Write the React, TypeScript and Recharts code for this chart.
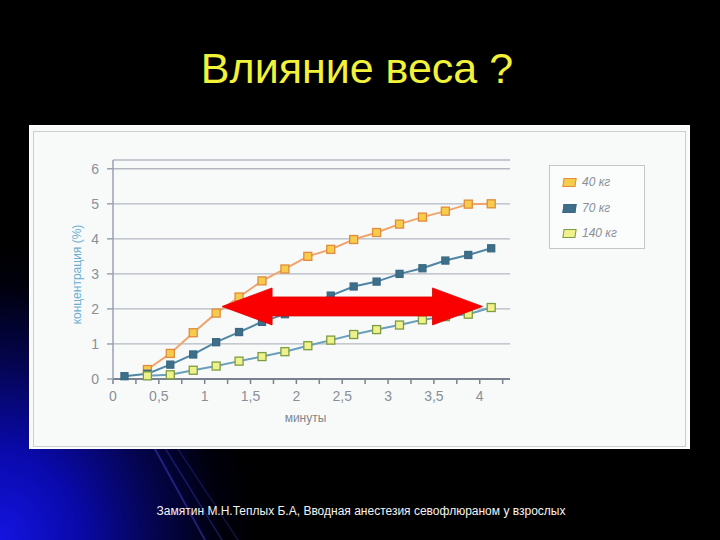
import React from 'react';
import { LineChart, Line, XAxis, YAxis, CartesianGrid, ReferenceLine, Legend } from 'recharts';

// ---- data ----
const times = [0.125, 0.375, 0.625, 0.875, 1.125, 1.375, 1.625, 1.875, 2.125, 2.375, 2.625, 2.875, 3.125, 3.375, 3.625, 3.875, 4.125];
const kg40 = [null, 0.27, 0.73, 1.32, 1.88, 2.34, 2.8, 3.14, 3.5, 3.7, 3.98, 4.18, 4.42, 4.62, 4.79, 4.99, 5.0];
const kg70 = [0.08, 0.15, 0.41, 0.7, 1.05, 1.34, 1.63, 1.85, 2.1, 2.38, 2.64, 2.78, 3.0, 3.16, 3.38, 3.54, 3.73];
const kg140 = [null, 0.09, 0.12, 0.25, 0.37, 0.51, 0.64, 0.78, 0.95, 1.11, 1.27, 1.41, 1.54, 1.69, 1.78, 1.85, 2.04];
const seriesNames = ['40 кг', '70 кг', '140 кг'];
const yTicks = [0, 1, 2, 3, 4, 5, 6];
const xTicks = [0, 0.25, 0.5, 0.75, 1, 1.25, 1.5, 1.75, 2, 2.25, 2.5, 2.75, 3, 3.25, 3.5, 3.75, 4, 4.25];
const arrowFrom = 1.19;
const arrowTo = 4.03;
const arrowLevel = 2.07;

const titleText = 'Влияние веса ?';
const yLabelText = 'концентрация (%)';
const xLabelText = 'минуты';
const captionText = 'Замятин М.Н.Теплых Б.А, Вводная анестезия севофлюраном у взрослых';

const data = times.map((t, i) => ({ t, a: kg40[i], b: kg70[i], c: kg140[i] }));

// ---- styles ----
const styles = [
  { line: '#f0a46c', fill: '#f7cb4c', stroke: '#e08c3c' },
  { line: '#4f86a3', fill: '#3e6f8a', stroke: '#3a6882' },
  { line: '#6a9fbc', fill: '#eef18c', stroke: '#7e9c42' },
];
const FONT = '"Liberation Sans", Arial, sans-serif';
const TICK_COLOR = '#8a9098';
const X_DOMAIN: [number, number] = [0, 4.33];
const Y_DOMAIN: [number, number] = [0, 6.25];
const CHART_W = 661;
const CHART_H = 324;

const squareDot = (st: any, size: number) => (p: any) => {
  const key = `d-${p.index}`;
  if (p.cx == null || p.cy == null || p.value == null) return <g key={key} />;
  return (
    <rect key={key} x={p.cx - size / 2} y={p.cy - size / 2} width={size} height={size}
      fill={st.fill} stroke={st.stroke} strokeWidth={1.3} />
  );
};

const XTick = (p: any) => {
  const v = p.payload.value;
  const show = Math.abs(v * 2 - Math.round(v * 2)) < 1e-6;
  if (!show) return <g />;
  return (
    <text x={p.x} y={p.y} dy={15} textAnchor="middle" fill={TICK_COLOR} fontSize={14} fontFamily={FONT}>
      {String(v).replace('.', ',')}
    </text>
  );
};

const YTick = (p: any) => (
  <text x={p.x} y={p.y} dy={5} textAnchor="end" fill={TICK_COLOR} fontSize={14} fontFamily={FONT}>
    {p.payload.value}
  </text>
);

const YLabel = (p: any) => {
  const vb = p.viewBox || { x: 44, y: 35, width: 40, height: 219 };
  const x = vb.x + 4;
  const y = vb.y + vb.height / 2 + 5;
  return (
    <text x={x} y={y} transform={`rotate(-90, ${x}, ${y})`} textAnchor="middle" dominantBaseline="central"
      fill="#6aaed0" fontSize={12} fontFamily={FONT}>
      {yLabelText}
    </text>
  );
};

const XLabel = (p: any) => {
  const vb = p.viewBox || { x: 84, y: 254, width: 397, height: 30 };
  return (
    <text x={vb.x + vb.width / 2 - 6} y={vb.y + 43} textAnchor="middle" fill="#7e868e" fontSize={12} fontFamily={FONT}>
      {xLabelText}
    </text>
  );
};

const ArrowShape = (p: any) => {
  const { x1, y1, x2 } = p;
  if (x1 == null || y1 == null || x2 == null) return <g />;
  const head = 50;
  const hh = 18.5;
  const sh = 9.5;
  const y = y1;
  const pts = [
    [x1, y],
    [x1 + head, y - hh],
    [x1 + head, y - sh],
    [x2 - head, y - sh],
    [x2 - head, y - hh],
    [x2, y],
    [x2 - head, y + hh],
    [x2 - head, y + sh],
    [x1 + head, y + sh],
    [x1 + head, y + hh],
  ].map((q) => q.join(',')).join(' ');
  return <polygon points={pts} fill="#fb0000" stroke="#e00000" strokeWidth={0.8} />;
};

const LegendBox = (props: any) => {
  const payload = [...(props.payload || [])]
    .filter((p: any) => seriesNames.indexOf(p.value) >= 0)
    .sort((p: any, q: any) => seriesNames.indexOf(p.value) - seriesNames.indexOf(q.value));
  const rowsTop = [10, 36, 61];
  return (
    <div style={{ position: 'relative', width: 96, height: 84, boxSizing: 'border-box', border: '1px solid #c2c7cc', background: '#fbfcfc' }}>
      {payload.map((item: any, i: number) => {
        const idx = seriesNames.indexOf(item.value);
        const st = styles[idx] || styles[0];
        return (
          <div key={i} style={{ position: 'absolute', left: 13, top: rowsTop[i] ?? i * 25, height: 12, display: 'flex', alignItems: 'center' }}>
            <div style={{ width: 13, height: 9, boxSizing: 'border-box', background: st.fill, border: `1.5px solid ${st.stroke}`, transform: 'skewX(-8deg)' }} />
            <span style={{ marginLeft: 6, fontStyle: 'italic', fontSize: 12, color: '#8a9098', fontFamily: FONT, lineHeight: '12px' }}>{item.value}</span>
          </div>
        );
      })}
    </div>
  );
};

export default function App() {
  return (
    <div style={{
      position: 'absolute', left: 0, top: 0, width: 720, height: 540, overflow: 'hidden',
      background: '#000', fontFamily: FONT,
    }}>
      <div style={{
        position: 'absolute', left: 0, top: 0, width: 720, height: 540,
        background: 'radial-gradient(ellipse 260px 300px at 0px 540px, rgba(20,20,225,1) 0%, rgba(10,10,180,0.95) 30%, rgba(6,6,110,0.7) 60%, rgba(0,0,40,0.3) 85%, rgba(0,0,0,0) 100%)',
      }} />
      <svg width={720} height={540} style={{ position: 'absolute', left: 0, top: 0 }}>
        <line x1={150} y1={440} x2={205} y2={540} stroke="rgba(70,70,210,0.45)" strokeWidth={2} />
        <line x1={160} y1={440} x2={222} y2={540} stroke="rgba(70,70,210,0.35)" strokeWidth={1.5} />
        <line x1={172} y1={440} x2={238} y2={540} stroke="rgba(70,70,210,0.25)" strokeWidth={1.5} />
      </svg>
      <div style={{
        position: 'absolute', left: -3, top: 47, width: 720, textAlign: 'center',
        color: '#f2f23a', fontSize: 43, lineHeight: '43px', fontFamily: FONT,
      }}>{titleText}</div>

      <div style={{
        position: 'absolute', left: 29, top: 125, width: 661, height: 324,
        background: '#f8fafa', boxSizing: 'border-box', border: '2px solid #fdfdfd',
      }}>
        <div style={{ position: 'absolute', left: 2, top: 4, right: 2, bottom: 0, border: '1px solid #c9ced2' }} />
        <div style={{ position: 'absolute', left: -2, top: -2 }}>
          <LineChart width={CHART_W} height={CHART_H} data={data}
            margin={{ top: 35, right: 180, bottom: 40, left: 44 }}
            style={{ fontFamily: FONT }}>
            <CartesianGrid vertical={false} stroke="#b3b8c0" strokeWidth={1.3} />
            <XAxis dataKey="t" type="number" domain={X_DOMAIN} ticks={xTicks} interval={0}
              height={30} tick={<XTick />} tickSize={5} tickMargin={2}
              axisLine={{ stroke: '#7a8290', strokeWidth: 2 }} tickLine={{ stroke: '#7a8290', strokeWidth: 1.5 }}
              label={<XLabel />} />
            <YAxis type="number" domain={Y_DOMAIN} ticks={yTicks} interval={0} width={40}
              tick={<YTick />} tickSize={6} tickMargin={8}
              axisLine={{ stroke: '#9aa2ae', strokeWidth: 1.5 }} tickLine={{ stroke: '#9aa2ae', strokeWidth: 1.5 }}
              label={<YLabel />} />
            <Line dataKey="a" name={seriesNames[0]} stroke={styles[0].line} strokeWidth={2}
              dot={squareDot(styles[0], 8)} activeDot={false} isAnimationActive={false} />
            <Line dataKey="b" name={seriesNames[1]} stroke={styles[1].line} strokeWidth={2}
              dot={squareDot(styles[1], 7)} activeDot={false} isAnimationActive={false} />
            <Line dataKey="c" name={seriesNames[2]} stroke={styles[2].line} strokeWidth={2}
              dot={squareDot(styles[2], 8)} activeDot={false} isAnimationActive={false} />
            <Legend layout="vertical" align="center" verticalAlign="middle" content={<LegendBox />}
              itemSorter={(item: any) => seriesNames.indexOf(item.value)}
              wrapperStyle={{ position: 'absolute', left: 520, top: 40, width: 96, height: 84 }} />
          </LineChart>
        </div>
        {/* overlay chart with the same scales, so the red arrow sits above the series */}
        <div style={{ position: 'absolute', left: -2, top: -2, pointerEvents: 'none' }}>
          <LineChart width={CHART_W} height={CHART_H} data={data}
            margin={{ top: 35, right: 180, bottom: 40, left: 44 }}>
            <XAxis dataKey="t" type="number" domain={X_DOMAIN} height={30} tick={false} axisLine={false} tickLine={false} />
            <YAxis type="number" domain={Y_DOMAIN} width={40} tick={false} axisLine={false} tickLine={false} />
            <Line dataKey="c" stroke="none" strokeWidth={0} dot={false} activeDot={false}
              legendType="none" isAnimationActive={false} />
            <ReferenceLine segment={[{ x: arrowFrom, y: arrowLevel }, { x: arrowTo, y: arrowLevel }]}
              shape={ArrowShape} ifOverflow="extendDomain" />
          </LineChart>
        </div>
      </div>

      <div style={{
        position: 'absolute', left: 1, top: 505, width: 720, textAlign: 'center',
        color: '#f4f4f4', fontSize: 12, lineHeight: '12px', fontFamily: FONT,
      }}>{captionText}</div>
    </div>
  );
}
